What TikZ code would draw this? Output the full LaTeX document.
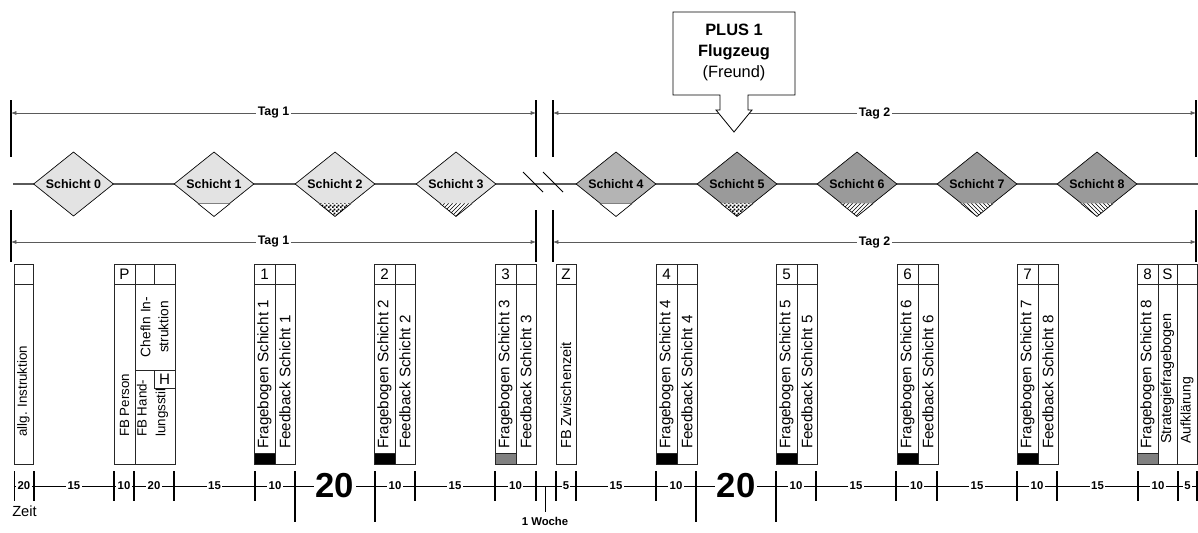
\documentclass[tikz,border=0pt]{standalone}
\usepackage{fontspec}
\setmainfont{Liberation Sans}
\usepackage{xcolor}
\usepackage{tikz}
\usetikzlibrary{arrows.meta, patterns, calc, shapes.geometric}
\definecolor{shiftlight}{RGB}{227,227,227}
\definecolor{shiftmid}{RGB}{180,180,180}
\definecolor{shiftdark}{RGB}{154,154,154}
\definecolor{linegray}{RGB}{90,90,90}
\definecolor{blockgray}{RGB}{128,128,128}
\pgfdeclarepatternformonly{finechecker}{\pgfpointorigin}{\pgfqpoint{3pt}{3pt}}%
  {\pgfqpoint{3pt}{3pt}}{%
  \pgfpathrectangle{\pgfpointorigin}{\pgfqpoint{1.5pt}{1.5pt}}%
  \pgfpathrectangle{\pgfqpoint{1.5pt}{1.5pt}}{\pgfqpoint{1.5pt}{1.5pt}}%
  \pgfusepath{fill}}

\begin{document}
\begin{tikzpicture}[x=0.75pt, y=-0.75pt,
  schicht/.style={diamond, draw=black, line width=0.5pt, minimum width=60pt,
                  minimum height=48pt, inner sep=0pt,
                  font=\bfseries\fontsize{9.3}{11}\selectfont},
  axis/.style={draw=linegray, line width=0.8pt},
  tagline/.style={{Latex[length=4pt,width=3pt]}-{Latex[length=4pt,width=3pt]},
                  draw=linegray, line width=0.5pt},
  taglab/.style={fill=white, inner sep=1pt, font=\bfseries\fontsize{9.3}{11}\selectfont},
  tagtick/.style={line width=1pt},
  box/.style={draw=black!85, line width=0.6pt},
  vtext/.style={rotate=90, anchor=west, inner sep=0pt, font=\fontsize{11.4}{14}\selectfont},
  small/.style={font=\fontsize{10}{12}\selectfont},
  head/.style={inner sep=0pt, font=\fontsize{11.4}{14}\selectfont},
  tick/.style={line width=1.1pt},
  tlab/.style={fill=white, inner sep=1pt, font=\bfseries\fontsize{8.5}{10}\selectfont},
  biglab/.style={fill=white, inner sep=1pt, font=\bfseries\fontsize{26}{28}\selectfont},
]
  \useasboundingbox (0,0) rectangle (1198,532);

  % Tage oben
  \coordinate (t1l) at (11,113);
  \coordinate (t1r) at (536,113);
  \coordinate (t2l) at (553,113);
  \coordinate (t2r) at (1196,113);
  \foreach \x in {11,536,553,1196}
    \draw[tagtick] (\x,100) -- (\x,157);
  \draw[tagline] (t1l) -- node[taglab] (tag1o) {Tag 1} (t1r);
  \draw[tagline] (t2l) -- node[taglab] (tag2o) {Tag 2} (t2r);

  % Callout
  \draw[fill=white, line width=0.6pt] (673,12) -- (795,12) -- (795,95) -- (748,95)
      -- (748,110) -- (752,110) -- (734,132) -- (716,110) -- (720,110)
      -- (720,95) -- (673,95) -- cycle;
  \node[align=center, font=\fontsize{12.3}{15.75}\selectfont] (plus) at (734,52)
      {\textbf{PLUS 1}\\\textbf{Flugzeug}\\(Freund)};

  % Schichten
  \draw[axis] (13,184) -- (1198,184);
  \draw[line width=0.7pt] (523,172) -- (543,192);
  \draw[line width=0.7pt] (543,172) -- (563,192);
  \foreach \i/\x/\c in {0/73.5/shiftlight, 1/214/shiftlight, 2/335/shiftlight,
                        3/456/shiftlight, 4/616/shiftmid, 5/737/shiftdark,
                        6/857/shiftdark, 7/977/shiftdark, 8/1097/shiftdark}
    \node[schicht, fill=\c] (s\i) at (\x,184) {Schicht \i};

  % Markierungen unten an den Rauten
  \foreach \i in {1,4} {
    \fill[white] ($(s\i.south)!0.4!(s\i.west)$) -- (s\i.south)
        -- ($(s\i.south)!0.4!(s\i.east)$) -- cycle;
    \draw[blockgray, line width=0.8pt] ($(s\i.south)!0.4!(s\i.west)$)
        -- ($(s\i.south)!0.4!(s\i.east)$);
  }
  \foreach \i/\p in {2/finechecker, 5/finechecker, 3/north east lines,
                     6/north east lines, 7/north west lines, 8/north west lines} {
    \fill[white] ($(s\i.south)!0.4!(s\i.west)$) -- (s\i.south)
        -- ($(s\i.south)!0.4!(s\i.east)$) -- cycle;
    \fill[pattern=\p] ($(s\i.south)!0.4!(s\i.west)$) -- (s\i.south)
        -- ($(s\i.south)!0.4!(s\i.east)$) -- cycle;
  }
  \foreach \i in {1,...,8}
    \draw[line width=0.5pt] ($(s\i.south)!0.4!(s\i.west)$) -- (s\i.south)
        -- ($(s\i.south)!0.4!(s\i.east)$);

  % Tage unten
  \coordinate (u1l) at (11,242);
  \coordinate (u1r) at (536,242);
  \coordinate (u2l) at (553,242);
  \coordinate (u2r) at (1196,242);
  \foreach \x in {11,536,553,1196}
    \draw[tagtick] (\x,210) -- (\x,262);
  \draw[tagline] (u1l) -- node[taglab] (tag1u) {Tag 1} (u1r);
  \draw[tagline] (u2l) -- node[taglab] (tag2u) {Tag 2} (u2r);

  % Instruktion
  \draw[box] (14,264) rectangle (33,464);
  \draw[box] (14,284) -- (33,284);
  \node[vtext, small] (instr) at (23.5,437) {allg. Instruktion};

  % Person / Handlungsstil / ChefIn
  \draw[box] (114,264) rectangle (175,464);
  \draw[box] (114,284) -- (175,284);
  \draw[box] (135,264) -- (135,464);
  \draw[box] (154,264) -- (154,284);
  \draw[box] (135,370) -- (175,370);
  \draw[box] (154,370) rectangle (175,388);
  \node[head] (hp) at (124.5,274) {P};
  \node[vtext, small] (person) at (124.5,437) {FB Person};
  \node[vtext, anchor=center, align=center, font=\fontsize{10.3}{13.5}\selectfont]
      (chef) at (154.5,327) {ChefIn In-\\struktion};
  \node[vtext, align=left, font=\fontsize{10}{14}\selectfont]
      (hand) at (152.5,437) {FB Hand-\\lungsstil};
  \node[head] (hh) at (164.5,379) {H};

  % Frageboegen und Feedback
  \foreach \x/\n/\q/\f/\c in {254/1/1/1/black, 374/2/2/2/black, 495/3/3/3/blockgray,
                              656/4/4/4/black, 776/5/5/5/black, 897/6/6/6/black,
                              1017/7/7/8/black} {
    \fill[\c] (\x,453) rectangle ++(21,11);
    \draw[box] (\x,264) rectangle ++(41,200);
    \draw[box] (\x,284) -- ++(41,0);
    \draw[box] (\x+21,264) -- ++(0,200);
    \draw[box] (\x,453) -- ++(21,0);
    \node[head] (h\n) at (\x+10.5,274) {\n};
    \node[vtext] (q\n) at (\x+10.5,449) {Fragebogen Schicht \q};
    \node[vtext] (f\n) at (\x+31,449) {Feedback Schicht \f};
  }

  % Zwischenzeit
  \draw[box] (556,264) rectangle (576,464);
  \draw[box] (556,284) -- (576,284);
  \node[head] (hz) at (566,274) {Z};
  \node[vtext, font=\fontsize{10.9}{13}\selectfont] (zwischen) at (566,449) {FB Zwischenzeit};

  % Schluss
  \fill[blockgray] (1137,453) rectangle (1158,464);
  \draw[box] (1137,264) rectangle (1197,464);
  \draw[box] (1137,284) -- (1197,284);
  \draw[box] (1158,264) -- (1158,464);
  \draw[box] (1177,264) -- (1177,464);
  \draw[box] (1137,453) -- (1158,453);
  \node[head] (h8) at (1147.5,274) {8};
  \node[head] (hs) at (1167.5,274) {S};
  \node[vtext] (q8) at (1147.5,449) {Fragebogen Schicht 8};
  \node[vtext, font=\fontsize{10.8}{13}\selectfont] (strat) at (1167.5,444) {Strategiefragebogen};
  \node[vtext, font=\fontsize{10.5}{13}\selectfont] (aufkl) at (1187,444) {Aufklärung};

  % Zeitachse
  \draw[line width=0.6pt] (14,486) -- (1197,486);
  \draw[line width=0.6pt] (14,471) -- (14,501);
  \foreach \x in {34,114,134,174,255,415,495,536,556,576,656,816,896,937,1017,1057,1138,1178,1197}
    \draw[tick] (\x,471) -- (\x,501);
  \foreach \x in {295,375,696,776}
    \draw[tick] (\x,471) -- (\x,522);
  \draw[line width=0.6pt] (545,486) -- (545,512);
  \foreach \a/\b/\t in {14/34/20, 34/114/15, 114/134/10, 134/174/20, 174/255/15,
                        255/295/10, 375/415/10, 415/495/15, 495/536/10, 556/576/5,
                        576/656/15, 656/696/10, 776/816/10, 816/896/15, 896/937/10,
                        937/1017/15, 1017/1057/10, 1057/1138/15, 1138/1178/10, 1178/1197/5}
    \node[tlab] (z\a) at ({(\a+\b)/2},486) {\t};
  \node[biglab] (big1) at (335,486) {20};
  \node[biglab] (big2) at (736,486) {20};
  \node[anchor=west, inner sep=0pt, font=\fontsize{11}{13}\selectfont] (zeit) at (12,511) {Zeit};
  \node[font=\bfseries\fontsize{8.5}{10}\selectfont, inner sep=0pt] (woche) at (545,521) {1 Woche};
\end{tikzpicture}
\end{document}
